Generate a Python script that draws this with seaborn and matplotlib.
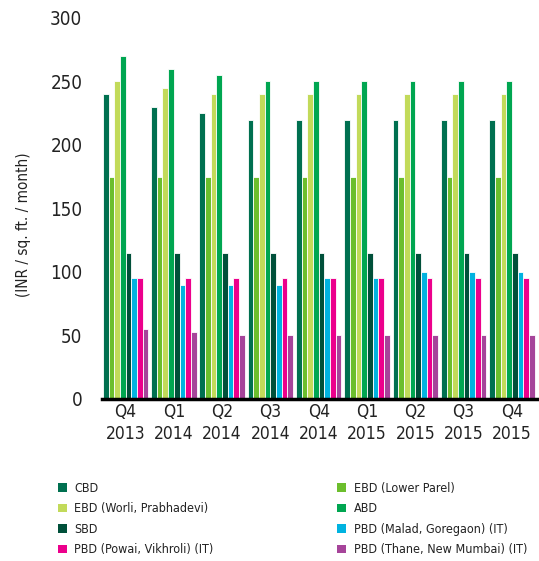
import matplotlib
matplotlib.use("Agg")
import matplotlib.pyplot as plt
import seaborn as sns
import pandas as pd
from matplotlib.patches import Patch
from matplotlib import font_manager

quarters = ["Q4\n2013", "Q1\n2014", "Q2\n2014", "Q3\n2014", "Q4\n2014",
            "Q1\n2015", "Q2\n2015", "Q3\n2015", "Q4\n2015"]

series_names = ["CBD", "EBD (Lower Parel)", "EBD (Worli, Prabhadevi)", "ABD", "SBD",
                "PBD (Malad, Goregaon) (IT)", "PBD (Powai, Vikhroli) (IT)",
                "PBD (Thane, New Mumbai) (IT)"]

cbd = [240, 230, 225, 220, 220, 220, 220, 220, 220]
ebd_lower_parel = [175, 175, 175, 175, 175, 175, 175, 175, 175]
ebd_worli = [250, 245, 240, 240, 240, 240, 240, 240, 240]
abd = [270, 260, 255, 250, 250, 250, 250, 250, 250]
sbd = [115, 115, 115, 115, 115, 115, 115, 115, 115]
pbd_malad = [95, 90, 90, 90, 95, 95, 100, 100, 100]
pbd_powai = [95, 95, 95, 95, 95, 95, 95, 95, 95]
pbd_thane = [55, 53, 50, 50, 50, 50, 50, 50, 50]

colors = ["#007050", "#6CBE2D", "#C2DA5A", "#00A651", "#00503A",
          "#00B3E0", "#EC008C", "#A6449A"]

values = [cbd, ebd_lower_parel, ebd_worli, abd, sbd, pbd_malad, pbd_powai, pbd_thane]
rows = []
for name, vals in zip(series_names, values):
    for q, v in zip(quarters, vals):
        rows.append({"Quarter": q, "Series": name, "Rent": v})
df = pd.DataFrame(rows)

sns.set_style("white")

# Prefer a narrow/condensed face when one is installed
narrow = None
for f in font_manager.fontManager.ttflist:
    if f.style == "normal" and f.weight in (400, "normal", "regular") and (
            "condensed" in str(f.stretch) or "Narrow" in f.name or "Condensed" in f.name):
        narrow = f
        break

if narrow is not None:
    plt.rcParams["font.family"] = [narrow.name, "DejaVu Sans"]
    plt.rcParams["font.stretch"] = narrow.stretch
    sizes = dict(ytick=13.5, xtick=12.5, ylabel=11, legend=9)
else:
    plt.rcParams["font.family"] = ["Roboto", "DejaVu Sans"]
    sizes = dict(ytick=12, xtick=10.5, ylabel=10, legend=8)

fig = plt.figure(figsize=(5.39, 5.61), dpi=100)
ax = fig.add_axes([0.189, 0.289, 0.811, 0.679])

sns.barplot(data=df, x="Quarter", y="Rent", hue="Series", hue_order=series_names,
            order=quarters, palette=colors, width=0.94, edgecolor="white",
            linewidth=0.6, saturation=1, errorbar=None, legend=False, ax=ax)

ax.set_ylim(0, 300)
ax.set_xlim(-0.49, 8.56)
ax.set_yticks([0, 50, 100, 150, 200, 250, 300])
ax.tick_params(axis="y", length=0, pad=14, labelsize=sizes["ytick"], labelcolor="#222222")
ax.tick_params(axis="x", length=0, pad=3, labelsize=sizes["xtick"], labelcolor="#222222")
for lbl in ax.get_xticklabels():
    lbl.set_linespacing(1.25)
ax.set_xlabel("")
ax.set_ylabel("(INR / sq. ft. / month)", fontsize=sizes["ylabel"], color="#222222")
ax.yaxis.set_label_coords(-0.163, 0.457)
for s in ["top", "right", "left"]:
    ax.spines[s].set_visible(False)
ax.spines["bottom"].set_color("black")
ax.spines["bottom"].set_linewidth(2.5)
ax.grid(False)

handles = [Patch(facecolor=c, edgecolor="none") for c in colors]
common = dict(frameon=False, fontsize=sizes["legend"], handlelength=0.7,
              handleheight=0.7, handletextpad=0.6, labelspacing=0.6,
              borderaxespad=0, borderpad=0, labelcolor="#222222")
fig.legend([handles[i] for i in (0, 2, 4, 6)],
           [series_names[i] for i in (0, 2, 4, 6)],
           loc="upper left", bbox_to_anchor=(0.108, 0.141), **common)
fig.legend([handles[i] for i in (1, 3, 5, 7)],
           [series_names[i] for i in (1, 3, 5, 7)],
           loc="upper left", bbox_to_anchor=(0.626, 0.141), **common)

fig.savefig("out.png", dpi=100)
